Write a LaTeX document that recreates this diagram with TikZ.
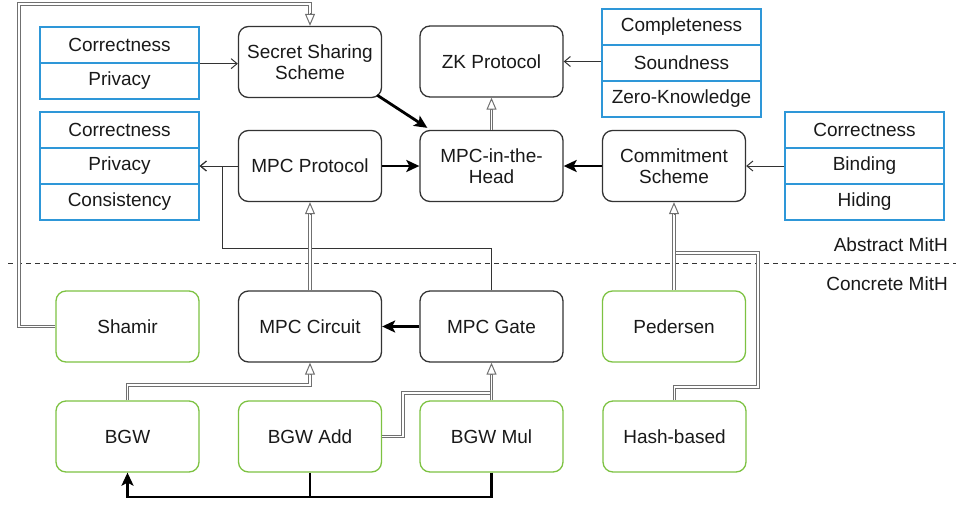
\documentclass[tikz,border=0pt]{standalone}
\usepackage{fontspec}
\setmainfont{Liberation Sans}
\usetikzlibrary{arrows.meta,calc}
\definecolor{boxline}{HTML}{333333}
\definecolor{grn}{HTML}{7DC242}
\definecolor{blu}{HTML}{2E97D8}
\definecolor{dblc}{HTML}{707070}
\begin{document}
\begin{tikzpicture}[x=1pt,y=-1pt,
 every node/.style={font=\fontsize{19}{21.5}\selectfont, inner sep=0pt, align=center, text=black!90},
 rbox/.style={draw=boxline, line width=1.3pt, rounded corners=10pt, minimum width=143pt, minimum height=71pt},
 gbox/.style={rbox, draw=grn},
 cell/.style={draw=blu, line width=1.3pt, minimum width=159pt, minimum height=36pt},
 thinarr/.style={draw=boxline, line width=1pt, -{Straight Barb[length=6pt,width=10pt]}},
 thickarr/.style={draw=black, line width=2.8pt, -{Stealth[length=13pt,width=12pt,inset=3pt]}},
 thickline/.style={draw=black, line width=2.8pt},
 dbl/.style={draw=dblc, line width=1pt, double=white, double distance=1.8pt},
 htip/.style={draw=dblc, line width=1pt, -{Triangle[length=12pt,width=10pt,fill=white]}},
 sep/.style={draw=boxline, line width=0.9pt, dash pattern=on 5pt off 4pt},
]
\useasboundingbox (0,0) rectangle (956,504);

% main boxes
\node[rbox] (ss)   at (310,62)    {Secret Sharing\\Scheme};
\node[rbox] (zk)   at (491.5,61.5) {ZK Protocol};
\node[rbox] (mpcp) at (310,166)   {MPC Protocol};
\node[rbox] (mith) at (491.5,166) {MPC-in-the-\\Head};
\node[rbox] (comm) at (674,166)   {Commitment\\Scheme};
\node[rbox] (circ) at (310,326.5) {MPC Circuit};
\node[rbox] (gate) at (491.5,326.5) {MPC Gate};
\node[gbox] (shamir) at (127.5,326.5) {Shamir};
\node[gbox] (ped)  at (674,326.5) {Pedersen};
\node[gbox] (bgw)  at (127.5,436.5) {BGW};
\node[gbox] (add)  at (310,436.5) {BGW Add};
\node[gbox] (mul)  at (491.5,436.5) {BGW Mul};
\node[gbox] (hash) at (674.5,436.5) {Hash-based};

% property tables
\node[cell] (t1a) at (119.5,45) {Correctness};
\node[cell] (t1b) at (119.5,81) {Privacy};
\node[cell] (t2a) at (119.5,130) {Correctness};
\node[cell] (t2b) at (119.5,166) {Privacy};
\node[cell] (t2c) at (119.5,202) {Consistency};
\node[cell] (t3a) at (681.5,27) {Completeness};
\node[cell] (t3b) at (681.5,63) {Soundness};
\node[cell] (t3c) at (681.5,99) {Zero-Knowledge};
\node[cell] (t4a) at (864.5,130) {Correctness};
\node[cell] (t4b) at (864.5,166) {Binding};
\node[cell] (t4c) at (864.5,202) {Hiding};

% separator
\coordinate (sl) at (8,263);
\coordinate (sr) at (956,263);
\draw[sep] (sl) -- (sr);
\node[anchor=east] (abs) at (948,245) {Abstract MitH};
\node[anchor=east] (con) at (948,284) {Concrete MitH};

% thin arrows
\draw[thinarr] (t1a.south east) -- (t1a.south east -| ss.west);
\draw[thinarr] (zk.east -| t3b.west) -- (zk.east);
\draw[thinarr] (mpcp.west) -- (t2b.east);
\coordinate (j1) at (222,248);
\draw[thinarr] (gate.north) |- (j1) |- (t2b.east);
\draw[thinarr] (t4b.west) -- (comm.east);

% thick arrows
\draw[thickarr] ($(ss.south east)+(-5,-3)$) -- ($(mith.north west)+(8,-2)$);
\draw[thickarr] (mpcp.east) -- (mith.west);
\draw[thickarr] (comm.west) -- (mith.east);
\draw[thickarr] (gate.west) -- (circ.east);
\coordinate (u1) at (127.5,497);
\draw[thickline] (add.south) -- (add.south |- u1);
\draw[thickarr] (mul.south) |- (u1) -- (bgw.south);

% double (inheritance) lines
\coordinate (s1) at (19,4);
\draw[dbl, shorten >=11pt] (shamir.west) -| (s1) -| (ss.north);
\draw[htip] ($(ss.north)+(0,-12.5)$) -- (ss.north);

\draw[dbl, shorten >=11pt] (mith.north) -- (zk.south);
\draw[htip] ($(zk.south)+(0,12.5)$) -- (zk.south);

\draw[dbl, shorten >=11pt] (circ.north) -- (mpcp.south);
\draw[htip] ($(mpcp.south)+(0,12.5)$) -- (mpcp.south);

\coordinate (h1) at (758,387);
\coordinate (h2) at (758,253);
\coordinate (h3) at (674,253);
\draw[dbl] (hash.north) |- (h1) -- (h2) -- (h3);
\draw[dbl, shorten >=11pt] (ped.north) -- (comm.south);
\draw[htip] ($(comm.south)+(0,12.5)$) -- (comm.south);

\coordinate (b1) at (310,385);
\draw[dbl, shorten >=11pt] (bgw.north) |- (b1) -- (circ.south);
\draw[htip] ($(circ.south)+(0,12.5)$) -- (circ.south);

\coordinate (a1) at (403,436.5);
\coordinate (a2) at (403,393);
\coordinate (a3) at (491.5,393);
\draw[dbl] (add.east) -- (a1) -- (a2) -- (a3);
\draw[dbl, shorten >=11pt] (mul.north) -- (gate.south);
\draw[htip] ($(gate.south)+(0,12.5)$) -- (gate.south);
\end{tikzpicture}
\end{document}
